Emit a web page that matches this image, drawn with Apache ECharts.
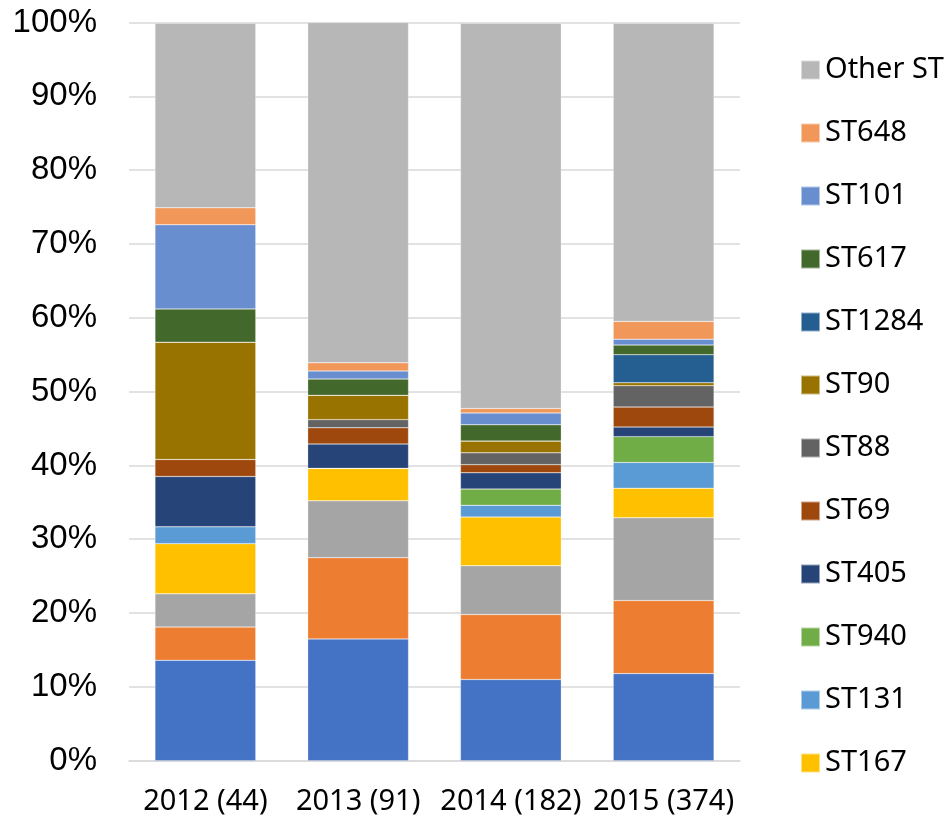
<!DOCTYPE html>
<html>
<head>
<meta charset="utf-8">
<script src="https://cdn.jsdelivr.net/npm/echarts@6/dist/echarts.min.js"></script>
<style>
  html, body { margin: 0; padding: 0; background: #fff; }
  #chart { width: 944px; height: 824px; }
</style>
</head>
<body>
<div id="chart"></div>
<script>
// categories (year and isolate count)
const years = ['2012 (44)', '2013 (91)', '2014 (182)', '2015 (374)'];

// share of isolates per ST, in %, bottom of the stack first
const s1 = [13.6, 16.5, 11.0, 11.8];
const s2 = [4.5, 11.0, 8.8, 9.9];
const s3 = [4.5, 7.7, 6.6, 11.2];
const st167 = [6.8, 4.4, 6.6, 4.0];
const st131 = [2.3, 0, 1.6, 3.5];
const st940 = [0, 0, 2.2, 3.5];
const st405 = [6.8, 3.3, 2.2, 1.3];
const st69 = [2.3, 2.2, 1.1, 2.7];
const st88 = [0, 1.1, 1.6, 2.9];
const st90 = [15.9, 3.3, 1.6, 0.4];
const st1284 = [0, 0, 0, 3.8];
const st617 = [4.5, 2.2, 2.2, 1.3];
const st101 = [11.4, 1.1, 1.6, 0.8];
const st648 = [2.3, 1.1, 0.6, 2.4];
const otherST = [25.0, 46.1, 52.2, 40.4];

const yTicks = [0, 10, 20, 30, 40, 50, 60, 70, 80, 90, 100];

const stacks = [
  { name: 'Series 1', data: s1, color: '#4472C4' },
  { name: 'Series 2', data: s2, color: '#ED7D31' },
  { name: 'Series 3', data: s3, color: '#A5A5A5' },
  { name: 'ST167', data: st167, color: '#FFC000' },
  { name: 'ST131', data: st131, color: '#5B9BD5' },
  { name: 'ST940', data: st940, color: '#70AD47' },
  { name: 'ST405', data: st405, color: '#264478' },
  { name: 'ST69', data: st69, color: '#9E480E' },
  { name: 'ST88', data: st88, color: '#636363' },
  { name: 'ST90', data: st90, color: '#997300' },
  { name: 'ST1284', data: st1284, color: '#255E91' },
  { name: 'ST617', data: st617, color: '#43682B' },
  { name: 'ST101', data: st101, color: '#698ED0' },
  { name: 'ST648', data: st648, color: '#F1975A' },
  { name: 'Other ST', data: otherST, color: '#B7B7B7' }
];

const legendNames = ['Other ST', 'ST648', 'ST101', 'ST617', 'ST1284', 'ST90',
  'ST88', 'ST69', 'ST405', 'ST940', 'ST131', 'ST167'];

var myChart = echarts.init(document.getElementById('chart'));
myChart.setOption({
  animation: false,
  grid: {
    left: 129,
    right: 204,
    top: 22.5,
    bottom: 63.3
  },
  legend: {
    orient: 'vertical',
    left: 795,
    top: 50,
    data: legendNames,
    icon: 'rect',
    itemWidth: 19,
    itemHeight: 19,
    itemGap: 33,
    textStyle: {
      fontFamily: 'Noto Sans',
      fontSize: 29,
      lineHeight: 30,
      color: '#000'
    }
  },
  xAxis: {
    type: 'category',
    data: years,
    axisLine: { lineStyle: { color: '#d9d9d9', width: 1.5 } },
    axisTick: { show: false },
    axisLabel: {
      interval: 0,
      hideOverlap: false,
      fontFamily: 'Noto Sans',
      fontSize: 29,
      color: '#000',
      margin: 27
    }
  },
  yAxis: {
    type: 'value',
    min: yTicks[0],
    max: yTicks[yTicks.length - 1],
    interval: 10,
    axisLine: { show: false },
    axisTick: { show: false },
    axisLabel: {
      formatter: '{value}%',
      fontFamily: 'Liberation Sans',
      fontSize: 33,
      color: '#000',
      margin: 32
    },
    splitLine: { lineStyle: { color: '#d9d9d9', width: 1.5 } }
  },
  series: stacks.map(s => ({
    name: s.name,
    type: 'bar',
    stack: 'total',
    barWidth: '66%',
    data: s.data,
    itemStyle: {
      color: s.color,
      borderColor: 'rgba(255,255,255,0.5)',
      borderWidth: 0.5
    }
  }))
});
</script>
</body>
</html>
